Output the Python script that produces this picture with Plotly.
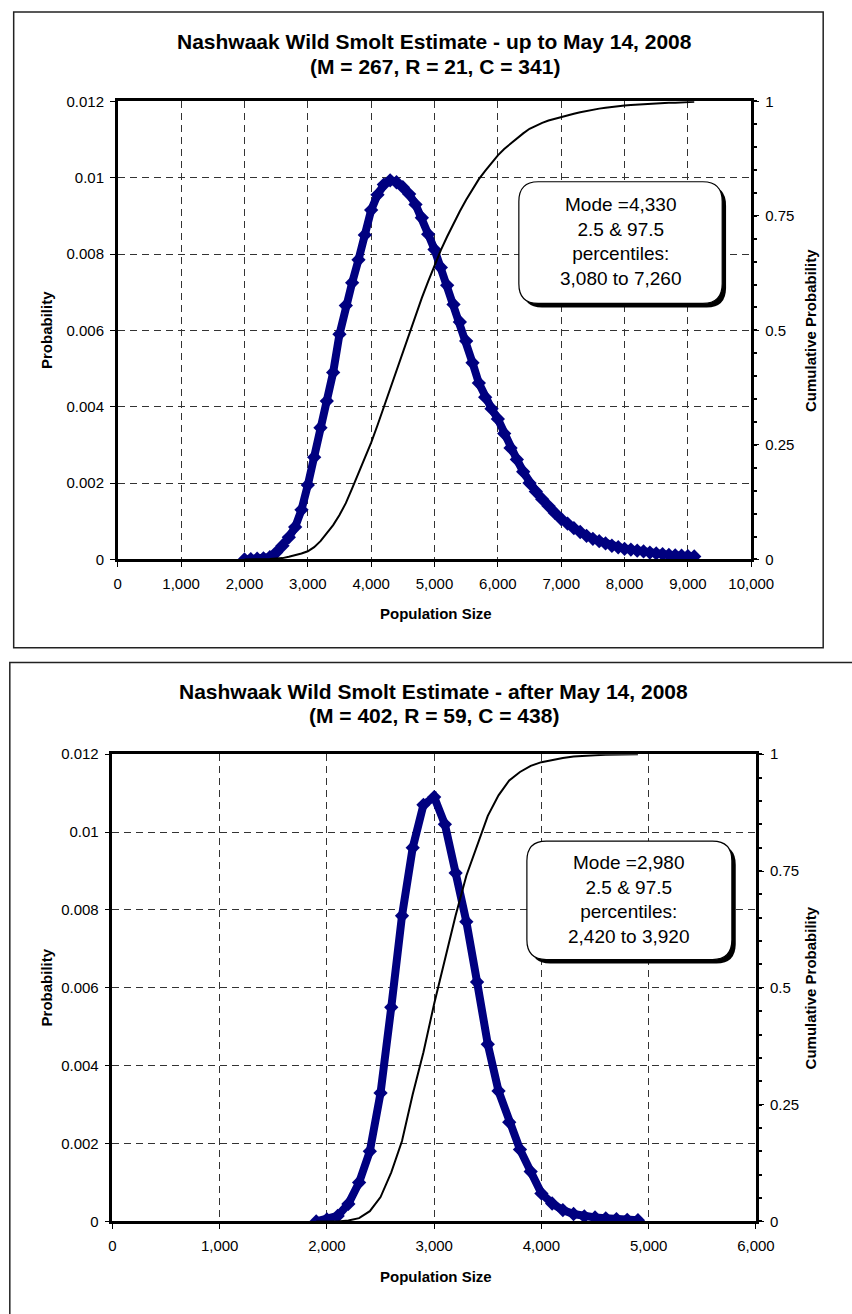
import plotly.graph_objects as go

W, H = 852, 1314
FONT = "Liberation Sans, Arial, sans-serif"

# ---------------- Data ----------------
title1_lines = ["Nashwaak Wild Smolt Estimate - up to May 14, 2008", "(M = 267, R = 21, C = 341)"]
title2_lines = ["Nashwaak Wild Smolt Estimate - after May 14, 2008", "(M = 402, R = 59, C = 438)"]
box1_text = "Mode =4,330<br>2.5 & 97.5<br>percentiles:<br>3,080 to 7,260"
box2_text = "Mode =2,980<br>2.5 & 97.5<br>percentiles:<br>2,420 to 3,920"

pop1 = [2000, 2100, 2200, 2300, 2400, 2500, 2600, 2700, 2800, 2900,
        3000, 3100, 3200, 3300, 3400, 3500, 3600, 3700, 3800, 3900,
        4000, 4100, 4200, 4300, 4400, 4500, 4600, 4700, 4800, 4900,
        5000, 5100, 5200, 5300, 5400, 5500, 5600, 5700, 5800, 5900,
        6000, 6100, 6200, 6300, 6400, 6500, 6600, 6700, 6800, 6900,
        7000, 7100, 7200, 7300, 7400, 7500, 7600, 7700, 7800, 7900,
        8000, 8100, 8200, 8300, 8400, 8500, 8600, 8700, 8800, 8900,
        9000, 9100]
prob1 = [0.00000, 0.00001, 0.00002, 0.00003, 0.00006, 0.00018, 0.00036, 0.00058, 0.00085, 0.00130,
         0.00195, 0.00268, 0.00345, 0.00415, 0.00490, 0.00590, 0.00665, 0.00725, 0.00785, 0.00850,
         0.00915, 0.00955, 0.00982, 0.00993, 0.00988, 0.00975, 0.00957, 0.00930, 0.00895, 0.00852,
         0.00812, 0.00765, 0.00718, 0.00668, 0.00622, 0.00572, 0.00515, 0.00462, 0.00425, 0.00395,
         0.00368, 0.00330, 0.00292, 0.00262, 0.00230, 0.00200, 0.00178, 0.00158, 0.00140, 0.00122,
         0.00106, 0.00094, 0.00082, 0.00072, 0.00062, 0.00054, 0.00048, 0.00042, 0.00036, 0.00032,
         0.00028, 0.00026, 0.00023, 0.00021, 0.00018, 0.00016, 0.00014, 0.00012, 0.00011, 0.00010,
         0.00009, 0.00008]
cum1 = [0.000, 0.000, 0.000, 0.000, 0.001, 0.002, 0.003, 0.006, 0.009, 0.013,
        0.018, 0.027, 0.040, 0.057, 0.075, 0.097, 0.123, 0.155, 0.187, 0.220,
        0.255, 0.293, 0.333, 0.375, 0.415, 0.455, 0.495, 0.534, 0.571, 0.607,
        0.642, 0.675, 0.705, 0.733, 0.760, 0.785, 0.808, 0.830, 0.848, 0.866,
        0.882, 0.896, 0.908, 0.920, 0.930, 0.940, 0.947, 0.953, 0.958, 0.962,
        0.966, 0.970, 0.973, 0.976, 0.979, 0.982, 0.984, 0.986, 0.988, 0.990,
        0.991, 0.992, 0.993, 0.994, 0.995, 0.996, 0.996, 0.997, 0.997, 0.998,
        0.998, 0.999]

pop2 = [1900, 2000, 2100, 2200, 2300, 2400, 2500, 2600, 2700, 2800,
        2900, 3000, 3100, 3200, 3300, 3400, 3500, 3600, 3700, 3800,
        3900, 4000, 4100, 4200, 4300, 4400, 4500, 4600, 4700, 4800,
        4900]
prob2 = [0.00000, 0.00005, 0.00014, 0.00045, 0.00100, 0.00180, 0.00330, 0.00550, 0.00785, 0.00960,
         0.01070, 0.01090, 0.01020, 0.00895, 0.00770, 0.00615, 0.00455, 0.00335, 0.00255, 0.00185,
         0.00128, 0.00072, 0.00046, 0.00029, 0.00019, 0.00013, 0.00010, 0.00008, 0.00006, 0.00004,
         0.00003]
cum2 = [0.000, 0.000, 0.000, 0.002, 0.007, 0.022, 0.052, 0.105, 0.172, 0.272,
        0.362, 0.466, 0.562, 0.655, 0.740, 0.805, 0.868, 0.912, 0.944, 0.962,
        0.975, 0.983, 0.988, 0.992, 0.995, 0.997, 0.998, 0.999, 0.999, 1.000,
        1.000]

left_ticks = [0, 0.002, 0.004, 0.006, 0.008, 0.010, 0.012]
left_ticktext = ["0", "0.002", "0.004", "0.006", "0.008", "0.01", "0.012"]
right_ticks = [0, 0.25, 0.5, 0.75, 1]
right_ticktext = ["0", "0.25", "0.5", "0.75", "1"]

# ---------------- Layout helpers (pixel -> paper) ----------------
def px(x):
    return x / W

def py(y):
    return 1 - y / H

def rrect_path(x0, y0, x1, y1, r):
    pts = [
        ("M", x0 + r, y0), ("L", x1 - r, y0), ("Q", x1, y0, x1, y0 + r),
        ("L", x1, y1 - r), ("Q", x1, y1, x1 - r, y1), ("L", x0 + r, y1),
        ("Q", x0, y1, x0, y1 - r), ("L", x0, y0 + r), ("Q", x0, y0, x0 + r, y0),
    ]
    s = ""
    for p in pts:
        cmd = p[0]
        coords = p[1:]
        parts = []
        for i in range(0, len(coords), 2):
            parts.append(f"{px(coords[i]):.5f},{py(coords[i+1]):.5f}")
        s += cmd + " " + " ".join(parts) + " "
    return s + "Z"

NAVY = "#000080"
GRID = "#333333"

fig = go.Figure()

# chart 1
fig.add_trace(go.Scatter(x=pop1, y=prob1, mode="lines+markers", xaxis="x", yaxis="y",
                         line=dict(color=NAVY, width=8),
                         marker=dict(symbol="diamond", size=11, color=NAVY),
                         showlegend=False, hoverinfo="skip"))
fig.add_trace(go.Scatter(x=pop1, y=cum1, mode="lines", xaxis="x", yaxis="y2",
                         line=dict(color="black", width=2), showlegend=False, hoverinfo="skip"))
# chart 2
fig.add_trace(go.Scatter(x=pop2, y=prob2, mode="lines+markers", xaxis="x2", yaxis="y3",
                         line=dict(color=NAVY, width=8),
                         marker=dict(symbol="diamond", size=11, color=NAVY),
                         showlegend=False, hoverinfo="skip"))
fig.add_trace(go.Scatter(x=pop2, y=cum2, mode="lines", xaxis="x2", yaxis="y4",
                         line=dict(color="black", width=2), showlegend=False, hoverinfo="skip"))

tickfont = dict(family=FONT, size=15, color="black")

def xax(domain, anchor, rng, dtick):
    return dict(domain=domain, anchor=anchor, range=rng, dtick=dtick, tick0=0,
                tickformat=",d", showgrid=True, gridcolor=GRID, gridwidth=1,
                griddash="7px,5px", zeroline=False, showline=True, linecolor="black",
                linewidth=3, mirror=True, ticks="outside", ticklen=5, tickcolor="black",
                tickwidth=1, tickfont=tickfont, ticklabelstandoff=4, fixedrange=True)

def yleft(domain, anchor):
    return dict(domain=domain, anchor=anchor, range=[0, 0.012], tickvals=left_ticks,
                ticktext=left_ticktext, showgrid=True, gridcolor=GRID, gridwidth=1,
                griddash="7px,5px", zeroline=False, showline=True, linecolor="black",
                linewidth=2.5, mirror=True, ticks="outside", ticklen=5, tickcolor="black",
                tickwidth=1, tickfont=tickfont, ticklabelstandoff=3, fixedrange=True)

def yright(overlay, anchor):
    return dict(overlaying=overlay, anchor=anchor, side="right", range=[0, 1],
                tickvals=right_ticks, ticktext=right_ticktext, showgrid=False,
                zeroline=False, showline=True, linecolor="black", linewidth=3,
                ticks="outside", ticklen=5, tickcolor="black", tickwidth=1,
                minor=dict(dtick=0.05, tick0=0, ticks="outside", ticklen=3,
                           tickcolor="black", tickwidth=1.5),
                tickfont=tickfont, ticklabelstandoff=3, fixedrange=True)

c1x = [px(117.5), px(771.7)]
c1y = [py(557.7), py(93.5)]
c2x = [px(112.0), px(776.5)]
c2y = [py(1228.3), py(755.0)]

fig.update_layout(
    width=W, height=H, margin=dict(l=0, r=0, t=0, b=0),
    paper_bgcolor="white", plot_bgcolor="white",
    xaxis=xax(c1x, "y", [0, 10000], 1000),
    yaxis=yleft(c1y, "x"),
    yaxis2=yright("y", "x"),
    xaxis2=xax(c2x, "y3", [0, 6000], 1000),
    yaxis3=yleft(c2y, "x2"),
    yaxis4=yright("y3", "x2"),
)

shapes = []
# outer chart borders
shapes.append(dict(type="rect", xref="paper", yref="paper", x0=px(10), x1=px(846),
                   y0=py(647), y1=py(3), line=dict(color="#222", width=1.5), layer="below"))
shapes.append(dict(type="rect", xref="paper", yref="paper", x0=px(6), x1=px(880),
                   y0=py(1340), y1=py(662), line=dict(color="#222", width=1.5), layer="below"))
# text boxes with shadow
for (bx0, by0, bx1, by1) in [(531.7, 175.0, 741.7, 298.3), (540.0, 843.0, 751.7, 963.0)]:
    shapes.append(dict(type="path", xref="paper", yref="paper",
                       path=rrect_path(bx0 + 4, by0 + 4, bx1 + 4, by1 + 4, 20),
                       fillcolor="black", line=dict(width=0), layer="above"))
    shapes.append(dict(type="path", xref="paper", yref="paper",
                       path=rrect_path(bx0, by0, bx1, by1, 20),
                       fillcolor="white", line=dict(color="black", width=1.2), layer="above"))
fig.update_layout(shapes=shapes)

def A(text, x, y, font, angle=0):
    return dict(text=text, x=px(x), y=py(y), xref="paper", yref="paper", showarrow=False,
                font=font, align="center", xanchor="center", yanchor="middle",
                textangle=angle, borderpad=0)

titlefont = dict(family=FONT, size=21, color="black")
ann = []
ann.append(A("<b>" + title1_lines[0] + "</b>", 444.6, 33, titlefont))
ann.append(A("<b>" + title1_lines[1] + "</b>", 444.6, 58, titlefont))
ann.append(A("<b>" + title2_lines[0] + "</b>", 444.0, 691, titlefont))
ann.append(A("<b>" + title2_lines[1] + "</b>", 444.0, 716, titlefont))
axt = dict(family=FONT, size=15, color="black")
ann.append(A("<b>Population Size</b>", 446, 612.7, axt))
ann.append(A("<b>Population Size</b>", 446, 1284.0, axt))
for yc in [(93.5 + 557.7) / 2, (755.0 + 1228.3) / 2]:
    ann.append(A("<b>Probability</b>", 44, yc, axt, -90))
    ann.append(A("<b>Cumulative Probability</b>", 833, yc, axt, -90))
boxfont = dict(family=FONT, size=19, color="black")
ann.append(A(box1_text, 636.7, 236.0, boxfont))
ann.append(A(box2_text, 645.8, 902.0, boxfont))
fig.update_layout(annotations=ann)

fig.write_html("out.html")
